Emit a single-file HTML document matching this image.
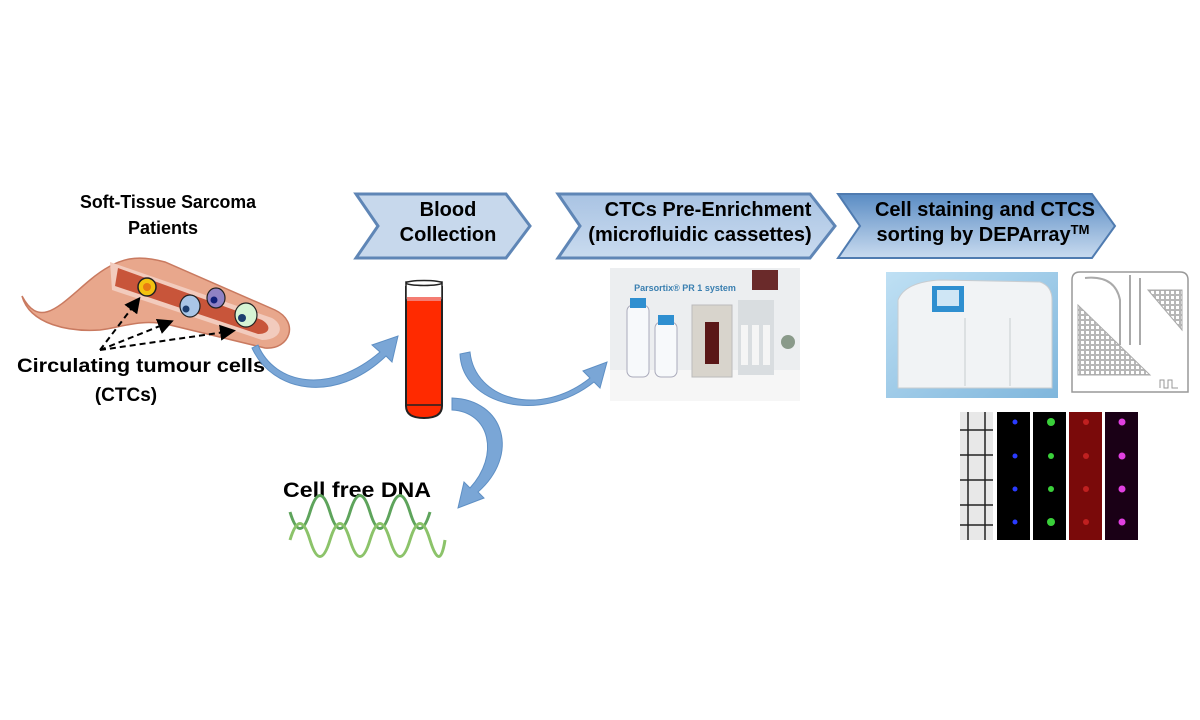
<!DOCTYPE html>
<html><head><meta charset="utf-8"><style>
html,body{margin:0;padding:0;background:#fff;}
svg{display:block;}
text{font-family:"Liberation Sans",sans-serif;font-weight:bold;}
</style></head><body>
<svg width="1200" height="720" viewBox="0 0 1200 720" xmlns="http://www.w3.org/2000/svg">
<defs>
<linearGradient id="g3" x1="0" y1="0" x2="0" y2="1"><stop offset="0" stop-color="#5a8cc4"/><stop offset="1" stop-color="#c9dbef"/></linearGradient>
<linearGradient id="g2" x1="0" y1="0" x2="0" y2="1"><stop offset="0" stop-color="#a9c3e3"/><stop offset="1" stop-color="#c9dbef"/></linearGradient>
<linearGradient id="mach" x1="0" y1="0" x2="1" y2="1"><stop offset="0" stop-color="#bfe0f4"/><stop offset="1" stop-color="#7fb6dc"/></linearGradient>
<marker id="ah" markerWidth="8" markerHeight="8" refX="6" refY="4" orient="auto"><path d="M0,0 L8,4 L0,8 z" fill="#000"/></marker>
<pattern id="grid" width="5" height="5" patternUnits="userSpaceOnUse"><rect width="5" height="5" fill="#fff"/><rect x="0.5" y="0.5" width="4" height="4" fill="none" stroke="#999" stroke-width="0.7"/></pattern>
</defs>

<!-- chevrons -->
<polygon points="356,194 506,194 530,226 506,258 356,258 378,226" fill="#c7d8ec" stroke="#5f86b6" stroke-width="3"/>
<text x="448" y="216" font-size="20" text-anchor="middle">Blood</text>
<text x="448" y="241" font-size="20" text-anchor="middle">Collection</text>

<polygon points="558,194 810,194 835,226 810,258 558,258 580,226" fill="url(#g2)" stroke="#5f86b6" stroke-width="3"/>
<text x="708" y="216" font-size="20" text-anchor="middle">CTCs Pre-Enrichment</text>
<text x="700" y="241" font-size="20" text-anchor="middle">(microfluidic cassettes)</text>

<polygon points="838,194 1092,194 1115,226 1092,258 838,258 860,226" fill="url(#g3)" stroke="#4f7bb0" stroke-width="2"/>
<text x="985" y="216" font-size="20" text-anchor="middle">Cell staining and CTCS</text>
<text x="983" y="241" font-size="20" text-anchor="middle">sorting by DEPArray<tspan font-size="13" dy="-7">TM</tspan></text>

<!-- left labels -->
<text x="80" y="208" font-size="18" textLength="176" lengthAdjust="spacingAndGlyphs">Soft-Tissue Sarcoma</text>
<text x="163" y="234" font-size="18" text-anchor="middle">Patients</text>
<text x="17" y="372" font-size="19" textLength="248" lengthAdjust="spacingAndGlyphs">Circulating tumour cells</text>
<text x="126" y="401" font-size="19" text-anchor="middle">(CTCs)</text>

<!-- vessel -->
<path d="M22,296 C40,330 60,305 90,280 C120,255 140,255 165,262 L275,310 C300,322 290,350 265,348 L170,325 C140,318 120,328 100,330 C70,332 30,325 22,296 Z" fill="#e8a78c" stroke="#c97a60" stroke-width="1.5"/>
<path d="M110,262 L272,318 C285,325 282,340 262,340 L112,290 Z" fill="#f2cbbd"/>
<path d="M118,268 L262,320 C272,326 270,334 258,334 L115,286 Z" fill="#c8553a"/>
<circle cx="147" cy="287" r="9" fill="#f3c20f" stroke="#222" stroke-width="1.5"/><circle cx="147" cy="287" r="4" fill="#e87b12"/>
<ellipse cx="190" cy="306" rx="10" ry="11" fill="#a9c6e6" stroke="#222" stroke-width="1.2"/><circle cx="186" cy="309" r="3.5" fill="#1c3e6e"/>
<ellipse cx="216" cy="298" rx="9" ry="10" fill="#8f82c4" stroke="#222" stroke-width="1.2"/><circle cx="214" cy="300" r="3.5" fill="#11207a"/>
<ellipse cx="246" cy="315" rx="11" ry="12" fill="#d6f4d4" stroke="#222" stroke-width="1.2"/><circle cx="242" cy="318" r="4" fill="#1c3e6e"/>
<g stroke="#000" stroke-width="2" stroke-dasharray="6,4" fill="none" marker-end="url(#ah)">
<line x1="100" y1="350" x2="138" y2="300"/>
<line x1="100" y1="350" x2="170" y2="322"/>
<line x1="100" y1="350" x2="232" y2="331"/>
</g>

<!-- blue curved arrows -->
<g fill="#7aa6d6" stroke="#5e8fc4" stroke-width="1">
<path d="M258,345 C275,385 330,395 380,352 L372,345 L398,336 L392,362 L386,356 C335,405 272,392 252,348 Z"/>
<path d="M470,352 C475,400 540,418 590,378 L583,371 L607,362 L600,388 L594,382 C540,425 462,405 460,354 Z"/>
<path d="M452,398 C505,400 520,455 478,492 L484,498 L458,508 L464,482 L470,488 C500,455 490,412 452,410 Z"/>
</g>

<!-- tube -->
<path d="M406,286 L406,406 Q406,418 424,418 Q442,418 442,406 L442,286" fill="#ff2a00" stroke="#222" stroke-width="2"/>
<rect x="406" y="282" width="36" height="18" fill="#fff" stroke="#222" stroke-width="1.5"/>
<ellipse cx="424" cy="283" rx="18" ry="2.5" fill="#fff" stroke="#222" stroke-width="1.5"/>
<rect x="407" y="297" width="34" height="4" fill="#f47c72"/>
<line x1="406" y1="405" x2="442" y2="405" stroke="#222" stroke-width="1.5"/>

<!-- cfDNA -->
<text x="283" y="497" font-size="21" textLength="148" lengthAdjust="spacingAndGlyphs">Cell free DNA</text>
<g stroke-width="3" fill="none">
<path d="M290,512 Q300,545 310,512 T330,512 T350,512 T370,512 T390,512 T410,512 T430,512" stroke="#5ea45c"/>
<path d="M290,540 Q300,507 310,540 T330,540 T350,540 T370,540 T390,540 T410,540 T430,540 T445,540" stroke="#8cc36a"/>
</g>

<!-- Parsortix image -->
<rect x="610" y="268" width="190" height="133" fill="#eceef0"/>
<rect x="610" y="370" width="190" height="31" fill="#f6f6f6"/>
<text x="685" y="291" font-size="9" fill="#3a7fb0" text-anchor="middle" font-weight="normal">Parsortix® PR 1 system</text>
<rect x="752" y="270" width="26" height="20" fill="#6a2a2a"/>
<rect x="627" y="305" width="22" height="72" rx="6" fill="#f7f9fb" stroke="#aab" stroke-width="1"/><rect x="630" y="298" width="16" height="10" fill="#2f8fd0"/>
<rect x="655" y="322" width="22" height="55" rx="6" fill="#f7f9fb" stroke="#aab" stroke-width="1"/><rect x="658" y="315" width="16" height="10" fill="#2f8fd0"/>
<rect x="692" y="305" width="40" height="72" fill="#d8d4cc" stroke="#bbb"/><rect x="705" y="322" width="14" height="42" fill="#5a1717"/>
<rect x="738" y="300" width="36" height="75" fill="#d9dde0"/>
<rect x="741" y="325" width="7" height="40" fill="#f5f5f5"/><rect x="752" y="325" width="7" height="40" fill="#f5f5f5"/><rect x="763" y="325" width="7" height="40" fill="#f5f5f5"/>
<circle cx="788" cy="342" r="7" fill="#8a9a8a"/>

<!-- DEPArray machine -->
<rect x="886" y="272" width="172" height="126" fill="url(#mach)"/>
<path d="M898,300 Q905,282 940,280 L1040,282 Q1052,286 1052,300 L1052,388 L898,388 Z" fill="#f1f3f5" stroke="#c8ccd0"/>
<rect x="932" y="286" width="32" height="26" fill="#2f8fd0"/><rect x="937" y="290" width="22" height="16" fill="#cfe6f5"/>
<line x1="965" y1="318" x2="965" y2="386" stroke="#c8ccd0"/><line x1="1010" y1="318" x2="1010" y2="386" stroke="#c8ccd0"/>

<!-- chip -->
<rect x="1068" y="268" width="124" height="130" fill="#fff"/>
<path d="M1072,280 Q1072,272 1080,272 L1180,272 Q1188,272 1188,280 L1188,392 L1072,392 Z" fill="none" stroke="#999" stroke-width="1.5"/>
<path d="M1078,305 L1078,375 L1150,375 Z" fill="url(#grid)" stroke="#aaa"/>
<path d="M1148,290 L1182,290 L1182,330 Z" fill="url(#grid)" stroke="#aaa"/>
<path d="M1085,278 Q1115,275 1120,300 L1120,345 M1140,278 L1140,345 M1130,275 L1130,345" fill="none" stroke="#aaa" stroke-width="2"/>
<path d="M1160,388 l0,-8 l4,0 l0,8 l4,0 l0,-8 l4,0 l0,8 l6,0" fill="none" stroke="#999"/>

<!-- fluorescence panel -->
<rect x="960" y="412" width="33" height="128" fill="#e8e8e8"/>
<g stroke="#222" stroke-width="1.5"><line x1="968" y1="412" x2="968" y2="540"/><line x1="985" y1="412" x2="985" y2="540"/>
<line x1="960" y1="430" x2="993" y2="430"/><line x1="960" y1="455" x2="993" y2="455"/><line x1="960" y1="480" x2="993" y2="480"/><line x1="960" y1="505" x2="993" y2="505"/><line x1="960" y1="525" x2="993" y2="525"/></g>
<rect x="997" y="412" width="33" height="128" fill="#000"/>
<rect x="1033" y="412" width="33" height="128" fill="#000"/>
<rect x="1069" y="412" width="33" height="128" fill="#7a0a0a"/>
<rect x="1105" y="412" width="33" height="128" fill="#1a0016"/>
<g>
<circle cx="1015" cy="422" r="2.5" fill="#2a3bff"/><circle cx="1015" cy="456" r="2.5" fill="#2a3bff"/><circle cx="1015" cy="489" r="2.5" fill="#2a3bff"/><circle cx="1015" cy="522" r="2.5" fill="#2a3bff"/>
<circle cx="1051" cy="422" r="4" fill="#3ad03a"/><circle cx="1051" cy="456" r="3" fill="#3ad03a"/><circle cx="1051" cy="489" r="3" fill="#3ad03a"/><circle cx="1051" cy="522" r="4" fill="#3ad03a"/>
<circle cx="1086" cy="422" r="3" fill="#c02020"/><circle cx="1086" cy="456" r="3" fill="#c02020"/><circle cx="1086" cy="489" r="3" fill="#c02020"/><circle cx="1086" cy="522" r="3" fill="#c02020"/>
<circle cx="1122" cy="422" r="3.5" fill="#e040e0"/><circle cx="1122" cy="456" r="3.5" fill="#e040e0"/><circle cx="1122" cy="489" r="3.5" fill="#e040e0"/><circle cx="1122" cy="522" r="3.5" fill="#e040e0"/>
</g>
</svg>
</body></html>
